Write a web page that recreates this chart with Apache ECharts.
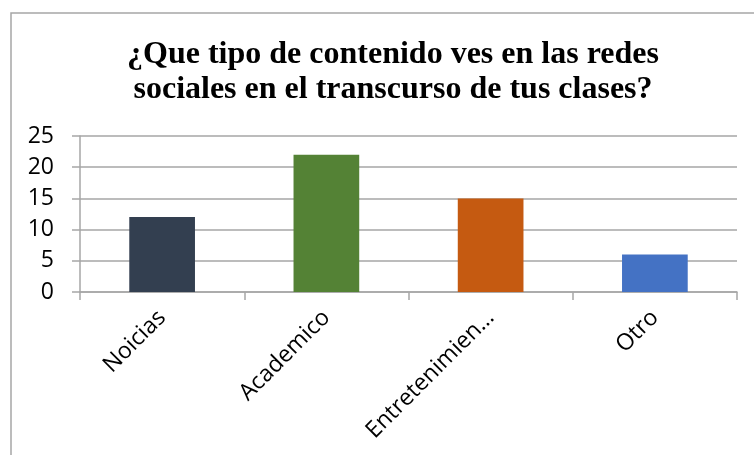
<!DOCTYPE html>
<html>
<head>
<meta charset="utf-8">
<script src="https://cdn.jsdelivr.net/npm/echarts@6/dist/echarts.min.js"></script>
<style>
    html, body { margin: 0; padding: 0; background: #fff; }
    #chart { width: 754px; height: 455px; }
</style>
</head>
<body>
<div id="chart"></div>
<script>
    var categories = ['Noicias', 'Academico', 'Entretenimiento', 'Otro'];
    var values = [12, 22, 15, 6];
    var yTicks = [0, 5, 10, 15, 20, 25];

    // colores de cada barra
    var barColors = ['#333f50', '#548235', '#c55a11', '#4472c4'];

    var chart = echarts.init(document.getElementById('chart'));

    chart.setOption({
        animation: false,
        backgroundColor: '#fff',
        title: {
            text: '¿Que tipo de contenido ves en las redes\nsociales en el transcurso de tus clases?',
            left: 388,
            top: 32,
            textAlign: 'center',
            textStyle: {
                fontFamily: 'Liberation Serif',
                fontWeight: 'bold',
                fontSize: 32,
                lineHeight: 35,
                color: '#000'
            }
        },
        graphic: [{
            type: 'rect',
            shape: { x: 11, y: 13, width: 800, height: 500 },
            style: { fill: 'none', stroke: '#a6a6a6', lineWidth: 1.5 },
            silent: true
        }],
        grid: {
            left: 80,
            right: 17,
            top: 136,
            bottom: 163
        },
        xAxis: {
            type: 'category',
            data: categories,
            axisLine: { lineStyle: { color: '#a6a6a6', width: 1.5 } },
            axisTick: { show: true, length: 8, lineStyle: { color: '#a6a6a6', width: 1.5 } },
            axisLabel: {
                rotate: 45,
                margin: 22,
                fontFamily: 'Open Sans',
                fontSize: 23,
                color: '#000',
                formatter: function (v) {
                    return v.length > 13 ? v.slice(0, 13) + '…' : v;
                }
            }
        },
        yAxis: {
            type: 'value',
            min: yTicks[0],
            max: yTicks[yTicks.length - 1],
            interval: 5,
            axisLine: { show: true, lineStyle: { color: '#a6a6a6', width: 1.5 } },
            axisTick: { show: true, inside: false, length: 8, lineStyle: { color: '#a6a6a6', width: 1.5 } },
            splitLine: { lineStyle: { color: '#a6a6a6', width: 1.5 } },
            axisLabel: {
                margin: 26,
                fontFamily: 'Open Sans',
                fontSize: 23,
                color: '#000'
            }
        },
        series: [{
            type: 'bar',
            barWidth: '40%',
            data: values.map(function (v, i) {
                return { value: v, itemStyle: { color: barColors[i] } };
            })
        }]
    });
</script>
</body>
</html>
